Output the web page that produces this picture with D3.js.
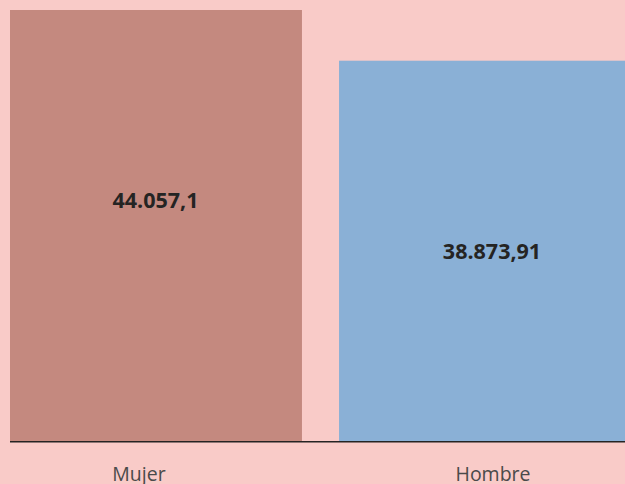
<!DOCTYPE html>
<html>
<head>
<meta charset="utf-8">
<script src="https://cdn.jsdelivr.net/npm/d3@7"></script>
<style>
  html, body { margin: 0; padding: 0; background: #f9cbc8; overflow: hidden; }
  svg { display: block; }
</style>
</head>
<body>
<script>
"use strict";

(function() {

let width = 625;
let height = 484;

let categories = ['Mujer', 'Hombre'];
let values = [44057.1, 38873.91];
let valueLabels = ['44.057,1', '38.873,91'];
let colors = ['#c4897f', '#8ab0d6'];

let data = categories.map(function(c, i) {
    return { cat: c, value: values[i], label: valueLabels[i], color: colors[i] };
});

let svg = d3.select('body')
    .append('svg')
    .attr('width', width)
    .attr('height', height);

svg.append('rect')
    .attr('width', width)
    .attr('height', height)
    .attr('fill', '#f9cbc8');

let x = d3.scaleBand()
    .domain(categories)
    .range([10, 631])
    .paddingInner(0.1127)
    .paddingOuter(0);

let y = d3.scaleLinear()
    .domain([0, 44057.1])
    .range([441, 10]);

svg.selectAll('.bar')
    .data(data)
    .enter()
    .append('rect')
    .attr('class', 'bar')
    .attr('x', function(d) { return x(d.cat); })
    .attr('y', function(d) { return y(d.value); })
    .attr('width', x.bandwidth())
    .attr('height', function(d) { return y(0) - y(d.value); })
    .attr('fill', function(d) { return d.color; });

// baseline
svg.append('line')
    .attr('x1', 10)
    .attr('x2', width)
    .attr('y1', y(0) + 0.75)
    .attr('y2', y(0) + 0.75)
    .attr('stroke', '#252423')
    .attr('stroke-width', 1.5);

// small nudges so labels sit where the original put them
let labelShift = [-0.5, 7];
let catShift = [-17, 8];
let labelY = [200, 251];

svg.selectAll('.val')
    .data(data)
    .enter()
    .append('text')
    .attr('class', 'val')
    .attr('x', function(d, i) { return x(d.cat) + x.bandwidth() / 2 + labelShift[i]; })
    .attr('y', function(d, i) { return labelY[i]; })
    .attr('dy', '0.36em')
    .attr('text-anchor', 'middle')
    .style('font-family', '"Open Sans", sans-serif')
    .style('font-weight', 'bold')
    .style('font-size', '21.5px')
    .style('fill', '#252423')
    .text(function(d) { return d.label; });

svg.selectAll('.cat')
    .data(data)
    .enter()
    .append('text')
    .attr('class', 'cat')
    .attr('x', function(d, i) { return x(d.cat) + x.bandwidth() / 2 + catShift[i]; })
    .attr('y', 481)
    .attr('text-anchor', 'middle')
    .style('font-family', '"Open Sans", sans-serif')
    .style('font-size', '19.5px')
    .style('fill', '#4a4a4a')
    .text(function(d) { return d.cat; });

})();
</script>
</body>
</html>
